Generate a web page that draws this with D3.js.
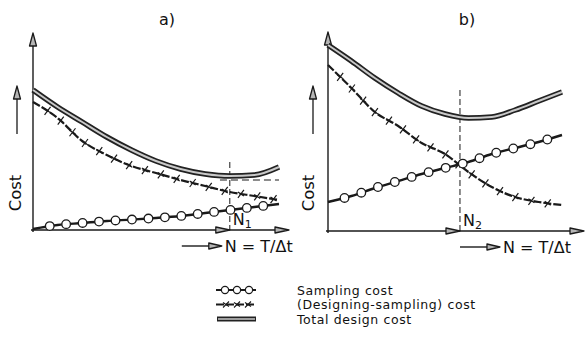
<!DOCTYPE html>
<html>
<head>
<meta charset="utf-8">
<script src="https://cdn.jsdelivr.net/npm/d3@7"></script>
<style>
  body { margin: 0; background: #fff; }
  svg { display: block; }
  text { font-family: "DejaVu Sans", sans-serif; fill: #111; }
</style>
</head>
<body>
<svg id="canvas" width="585" height="342"></svg>
<script>
// N = T/dt, read at whole steps along the axis (0..10)
let nSteps = [0, 1, 2, 3, 4, 5, 6, 7, 8, 9, 10]

// panel a)
let samplingA = [0.05, 0.25, 0.35, 0.45, 0.52, 0.6, 0.7, 0.85, 1.0, 1.15, 1.3]
let designA = [6.4, 5.6, 4.45, 3.75, 3.2, 2.85, 2.5, 2.2, 1.9, 1.7, 1.5]
let totalA = [7.0, 6.15, 5.4, 4.65, 4.0, 3.45, 3.05, 2.8, 2.7, 2.75, 3.15]

// panel b)
let samplingB = [1.45, 1.75, 2.15, 2.5, 2.85, 3.15, 3.45, 3.85, 4.15, 4.45, 4.8]
let designB = [8.3, 7.15, 5.95, 5.25, 4.4, 3.85, 2.95, 2.2, 1.7, 1.45, 1.3]
let totalB = [9.3, 8.5, 7.65, 6.9, 6.25, 5.85, 5.65, 5.7, 6.05, 6.5, 6.95]

// optimum marks: N position, top of dashed line
let optimumN = [8.0, 5.64]
let optimumTop = [3.4, 7.05]
let levelA = 2.5 // short dashed level line in a)

let panelTitles = ['a)', 'b)']
let optimumLabels = ['1', '2']
let legendLabels = ['Sampling cost', '(Designing-sampling) cost', 'Total design cost']

let canvas = d3.select('#canvas')

let panels = [
    { x0: 33, x1: 279, xEnd: 289, y0: 230, y1: 30, yTop: 33, costX: 15, arrowX: 17, titleX: 167, labelShift: 0,
      sampling: samplingA, design: designA, total: totalA },
    { x0: 328, x1: 562, xEnd: 584, y0: 231, y1: 31, yTop: 32, costX: 308, arrowX: 313, titleX: 467, labelShift: 48,
      sampling: samplingB, design: designB, total: totalB }
]

let ink = '#1a1a1a'

let arrowHead = (g, x, y, dir, len, w) => {
    // hollow-ish narrow triangle, tip at (x, y)
    let pts = dir === 'up'
        ? [[x, y], [x - w / 2, y + len], [x + w / 2, y + len]]
        : [[x, y], [x - len, y - w / 2], [x - len, y + w / 2]]
    g.append('polygon')
        .attr('points', pts.map(p => p.join(',')).join(' '))
        .attr('fill', '#b5b5b5')
        .attr('stroke', ink)
        .attr('stroke-width', 1.3)
        .attr('stroke-linejoin', 'round')
}

let pointsAlong = (pathNode, start, step, endGap) => {
    let total = pathNode.getTotalLength()
    let out = []
    for (let l = start; l <= total - endGap; l += step) out.push(pathNode.getPointAtLength(l))
    return out
}

panels.forEach((p, i) => {
    let g = canvas.append('g')
    let x = d3.scaleLinear().domain([0, 10]).range([p.x0, p.x1])
    let y = d3.scaleLinear().domain([0, 10]).range([p.y0, p.y1])
    let line = d3.line().x((d, k) => x(nSteps[k])).y(d => y(d)).curve(d3.curveMonotoneX)

    // axes
    g.append('line').attr('x1', x(0)).attr('x2', x(0)).attr('y1', y(0) + 2).attr('y2', p.yTop + 12)
        .attr('stroke', ink).attr('stroke-width', 1.4)
    arrowHead(g, x(0), p.yTop, 'up', 13, 7)
    g.append('line').attr('x1', x(0) - 2).attr('x2', p.xEnd - 12).attr('y1', y(0)).attr('y2', y(0))
        .attr('stroke', ink).attr('stroke-width', 1.6)
    arrowHead(g, p.xEnd, y(0), 'right', 14, 6)
    arrowHead(g, x(optimumN[i]), y(0), 'right', 14, 6)

    // N = T/dt label with its own arrow
    let labelY = y(0) + 16
    let arrowTip = x(optimumN[i]) - 8 + p.labelShift
    g.append('line').attr('x1', arrowTip - 40).attr('x2', arrowTip - 12).attr('y1', labelY).attr('y2', labelY)
        .attr('stroke', ink).attr('stroke-width', 1.4)
    arrowHead(g, arrowTip, labelY, 'right', 13, 6)
    g.append('text').attr('x', arrowTip + 3).attr('y', labelY + 6)
        .attr('font-size', 16).text('N = T/Δt')

    // Cost label and arrow
    g.append('text')
        .attr('transform', `translate(${p.costX + 6},193) rotate(-90)`)
        .attr('text-anchor', 'middle').attr('font-size', 16.5).text('Cost')
    g.append('line').attr('x1', p.arrowX).attr('x2', p.arrowX).attr('y1', 134).attr('y2', 96)
        .attr('stroke', ink).attr('stroke-width', 1.3)
    arrowHead(g, p.arrowX, 86, 'up', 13, 7)

    // title
    g.append('text').attr('x', p.titleX).attr('y', 25).attr('text-anchor', 'middle')
        .attr('font-size', 16).text(panelTitles[i])

    // optimum dashed line and label
    g.append('line').attr('x1', x(optimumN[i])).attr('x2', x(optimumN[i]))
        .attr('y1', y(optimumTop[i])).attr('y2', y(0))
        .attr('stroke', ink).attr('stroke-width', 1).attr('stroke-dasharray', '6 3')
    if (i === 0) {
        g.append('line').attr('x1', x(7.6)).attr('x2', x(10)).attr('y1', y(levelA)).attr('y2', y(levelA))
            .attr('stroke', ink).attr('stroke-width', 1).attr('stroke-dasharray', '7 4')
    }
    let nl = g.append('text').attr('x', x(optimumN[i]) + 3).attr('y', y(0) - 5).attr('font-size', 16)
    nl.append('tspan').text('N')
    nl.append('tspan').attr('font-size', 11).attr('dy', 3).text(optimumLabels[i])

    // total design cost: double stroke
    g.append('path').attr('d', line(p.total)).attr('fill', 'none')
        .attr('stroke', '#222').attr('stroke-width', 5.5)
    g.append('path').attr('d', line(p.total)).attr('fill', 'none')
        .attr('stroke', '#c9c9c9').attr('stroke-width', 2)

    // designing-sampling cost: dashed with crosses
    let dPath = g.append('path').attr('d', line(p.design)).attr('fill', 'none')
        .attr('stroke', ink).attr('stroke-width', 2.2).attr('stroke-dasharray', '8 2')
    pointsAlong(dPath.node(), 17, 16.5, 4).forEach(pt => {
        g.append('path')
            .attr('d', `M${pt.x - 3},${pt.y + 4}L${pt.x + 3},${pt.y - 4}M${pt.x - 3},${pt.y - 2}L${pt.x + 3},${pt.y + 2}`)
            .attr('stroke', ink).attr('stroke-width', 1.2)
    })

    // sampling cost: line with open circles
    let sPath = g.append('path').attr('d', line(p.sampling)).attr('fill', 'none')
        .attr('stroke', ink).attr('stroke-width', 2.4)
    g.selectAll('circle.s')
        .data(pointsAlong(sPath.node(), 17, i === 0 ? 16.5 : 17.6, 8))
        .enter().append('circle')
        .attr('cx', d => d.x).attr('cy', d => d.y).attr('r', 4.3)
        .attr('fill', '#fff').attr('stroke', ink).attr('stroke-width', 1.3)
})

// legend
let legend = canvas.append('g')
legendLabels.forEach((label, k) => {
    let ly = 290 + k * 14.5
    let row = legend.append('g')
    if (k === 0) {
        row.append('line').attr('x1', 216).attr('x2', 256).attr('y1', ly).attr('y2', ly)
            .attr('stroke', ink).attr('stroke-width', 2)
        d3.range(3).forEach(j => row.append('circle').attr('cx', 225 + j * 12).attr('cy', ly).attr('r', 3.6)
            .attr('fill', '#fff').attr('stroke', ink).attr('stroke-width', 1.2))
    } else if (k === 1) {
        row.append('line').attr('x1', 216).attr('x2', 256).attr('y1', ly).attr('y2', ly)
            .attr('stroke', ink).attr('stroke-width', 2).attr('stroke-dasharray', '8 2')
        d3.range(3).forEach(j => {
            let cx = 226 + j * 11
            row.append('path').attr('d', `M${cx - 3},${ly + 3}L${cx + 3},${ly - 3}M${cx - 3},${ly - 2}L${cx + 3},${ly + 2}`)
                .attr('stroke', ink).attr('stroke-width', 1.1)
        })
    } else {
        row.append('line').attr('x1', 217).attr('x2', 256).attr('y1', ly).attr('y2', ly)
            .attr('stroke', '#222').attr('stroke-width', 5)
        row.append('line').attr('x1', 218).attr('x2', 255).attr('y1', ly).attr('y2', ly)
            .attr('stroke', '#c9c9c9').attr('stroke-width', 1.6)
    }
    row.append('text').attr('x', 297).attr('y', ly + 4.5).attr('font-size', 12.5)
        .attr('letter-spacing', 0.6).text(label)
})
</script>
</body>
</html>
